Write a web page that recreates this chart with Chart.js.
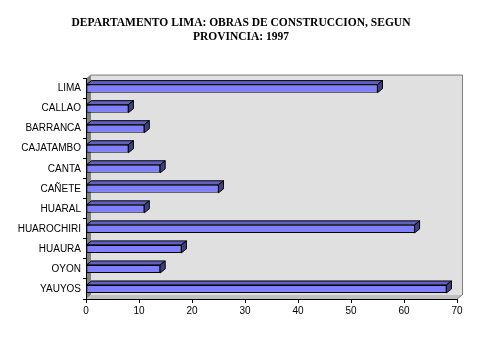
<!DOCTYPE html>
<html lang="es">
<head>
<meta charset="UTF-8">
<title>Obras de construccion 1997</title>
<script src="https://cdn.jsdelivr.net/npm/chart.js@4.4.1/dist/chart.umd.min.js"></script>
<style>
  html, body { margin: 0; padding: 0; background: #fff; }
  #wrap { width: 482px; height: 344px; }
</style>
</head>
<body>
<div id="wrap"><canvas id="obras" width="482" height="344"></canvas></div>
<script>
// provincias y numero de obras
const provincias = ['LIMA', 'CALLAO', 'BARRANCA', 'CAJATAMBO', 'CANTA', 'CAÑETE',
  'HUARAL', 'HUAROCHIRI', 'HUAURA', 'OYON', 'YAUYOS'];
const obras = [55, 8, 11, 8, 14, 25, 11, 62, 18, 14, 68];
const ticksX = [0, 10, 20, 30, 40, 50, 60, 70];

const DX = 5, DY = 4;   // profundidad de las paredes
const BX = 5, BY = 4;   // profundidad de las barras

// paredes, piso y caras 3D de las barras
const efecto3d = {
  id: 'efecto3d',
  beforeDraw(chart) {
    const { ctx, chartArea: a } = chart;
    ctx.save();
    ctx.fillStyle = '#fff';
    ctx.fillRect(0, 0, chart.width, chart.height);
    // pared del fondo
    ctx.fillStyle = '#e0e0e0';
    ctx.fillRect(a.left + DX, a.top - DY, a.right - a.left, a.bottom - a.top);
    ctx.strokeStyle = '#808080';
    ctx.lineWidth = 1;
    ctx.beginPath();
    ctx.moveTo(a.left + DX, a.top - DY + 0.5);
    ctx.lineTo(a.right + DX + 0.5, a.top - DY + 0.5);
    ctx.lineTo(a.right + DX + 0.5, a.bottom - DY);
    ctx.stroke();
    // pared izquierda
    ctx.fillStyle = '#808080';
    ctx.beginPath();
    ctx.moveTo(a.left, a.top);
    ctx.lineTo(a.left + DX, a.top - DY);
    ctx.lineTo(a.left + DX, a.bottom - DY);
    ctx.lineTo(a.left, a.bottom);
    ctx.closePath();
    ctx.fill();
    // piso
    ctx.fillStyle = '#c0c0c0';
    ctx.beginPath();
    ctx.moveTo(a.left, a.bottom);
    ctx.lineTo(a.left + DX, a.bottom - DY);
    ctx.lineTo(a.right + DX, a.bottom - DY);
    ctx.lineTo(a.right, a.bottom);
    ctx.closePath();
    ctx.fill();
    ctx.strokeStyle = '#808080';
    ctx.beginPath();
    ctx.moveTo(a.right, a.bottom);
    ctx.lineTo(a.right + DX, a.bottom - DY);
    ctx.stroke();
    ctx.restore();
  },
  afterDatasetsDraw(chart) {
    const { ctx } = chart;
    ctx.save();
    ctx.strokeStyle = '#000';
    ctx.lineWidth = 1;
    chart.getDatasetMeta(0).data.forEach(bar => {
      const p = bar.getProps(['x', 'y', 'base', 'height'], true);
      const top = p.y - p.height / 2, bot = p.y + p.height / 2;
      // cara superior
      ctx.fillStyle = '#6060c0';
      ctx.beginPath();
      ctx.moveTo(p.base, top);
      ctx.lineTo(p.base + BX, top - BY);
      ctx.lineTo(p.x + BX, top - BY);
      ctx.lineTo(p.x, top);
      ctx.closePath();
      ctx.fill();
      ctx.stroke();
      // cara lateral
      ctx.fillStyle = '#404080';
      ctx.beginPath();
      ctx.moveTo(p.x, top);
      ctx.lineTo(p.x + BX, top - BY);
      ctx.lineTo(p.x + BX, bot - BY);
      ctx.lineTo(p.x, bot);
      ctx.closePath();
      ctx.fill();
      ctx.stroke();
    });
    ctx.restore();
  }
};

new Chart(document.getElementById('obras'), {
  type: 'bar',
  data: {
    labels: provincias,
    datasets: [{
      data: obras,
      backgroundColor: '#8080ff',
      borderColor: '#000',
      borderWidth: 1,
      borderSkipped: false,
      barPercentage: 0.8,
      categoryPercentage: 0.5
    }]
  },
  options: {
    indexAxis: 'y',
    responsive: false,
    animation: false,
    layout: { padding: 0 },
    plugins: {
      legend: { display: false },
      tooltip: { enabled: false },
      title: {
        display: true,
        text: ['DEPARTAMENTO LIMA: OBRAS DE CONSTRUCCION, SEGUN', 'PROVINCIA: 1997'],
        color: '#000',
        font: { family: '"Liberation Serif", "Times New Roman", serif', size: 11.5, weight: 'bold', lineHeight: 1.2 },
        padding: { top: 16, bottom: 35 }
      }
    },
    scales: {
      x: {
        min: 0,
        max: 70,
        afterBuildTicks: s => { s.ticks = ticksX.map(v => ({ value: v })); },
        afterFit: s => { s.height = 45; },
        grid: { drawOnChartArea: false, color: '#000', tickLength: 4 },
        border: { color: '#000' },
        ticks: {
          color: '#000',
          padding: 2,
          maxRotation: 0,
          font: { family: '"Liberation Sans", Arial, sans-serif', size: 10 }
        }
      },
      y: {
        afterFit: s => { s.width = 86; },
        grid: { offset: true, drawOnChartArea: false, color: '#000', tickLength: 3 },
        border: { color: '#000' },
        ticks: {
          color: '#000',
          padding: 2,
          font: { family: '"Liberation Sans", Arial, sans-serif', size: 10 }
        }
      },
      // margen derecho vacio
      margen: {
        type: 'linear',
        position: 'right',
        afterFit: s => { s.width = 25; },
        grid: { display: false },
        border: { display: false },
        ticks: { display: false }
      }
    }
  },
  plugins: [efecto3d]
});
</script>
</body>
</html>
